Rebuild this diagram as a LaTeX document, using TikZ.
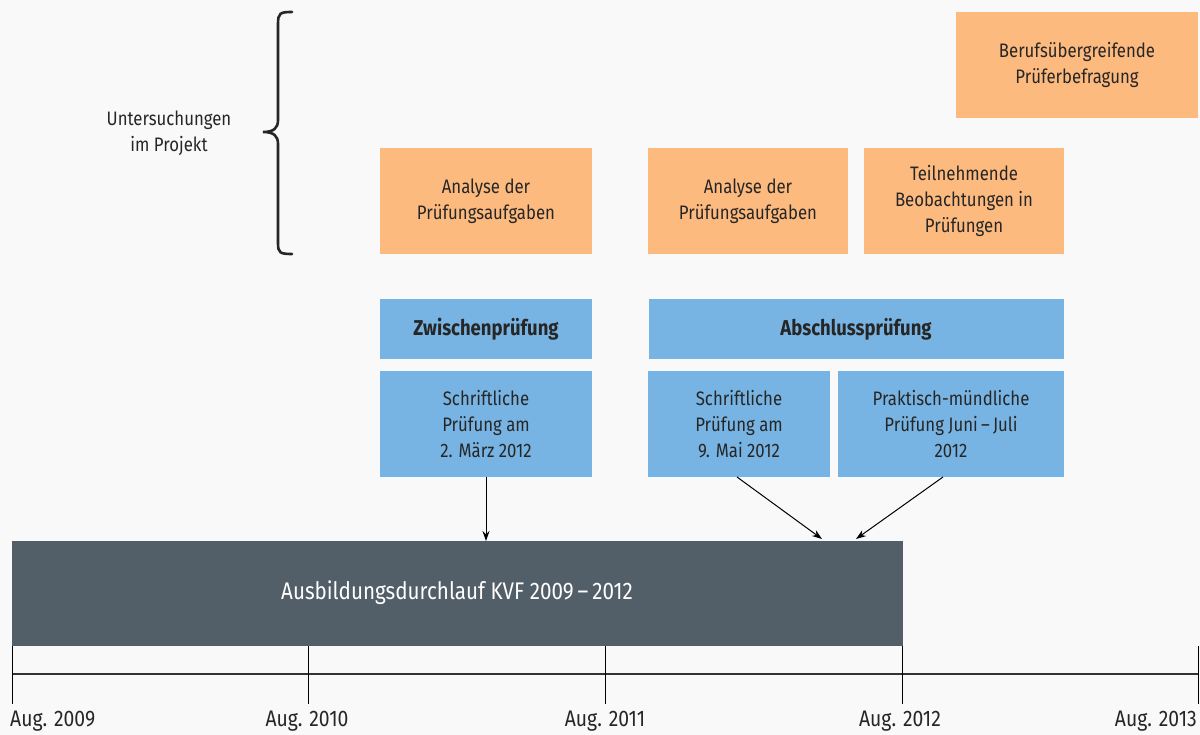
\documentclass[tikz,border=0pt]{standalone}
\usepackage{fontspec}
\setmainfont[FakeStretch=0.86]{Fira Sans}
\usetikzlibrary{arrows.meta}
\definecolor{bg}{HTML}{F9F9F9}
\definecolor{orangebox}{HTML}{FDBA7F}
\definecolor{bluebox}{HTML}{77B4E3}
\definecolor{darkbar}{HTML}{525E68}
\definecolor{txt}{HTML}{262626}
\begin{document}
\begin{tikzpicture}[x=1pt,y=-1pt,
  every node/.style={font=\fontsize{19.5}{26}\selectfont, text=txt, align=center, inner sep=0pt},
  obox/.style={fill=orangebox},
  bbox/.style={fill=bluebox},
  boldlbl/.style={font=\fontsize{21.5}{26}\selectfont\bfseries},
  axislbl/.style={font=\fontsize{22.5}{26}\selectfont},
  conn/.style={draw=black, line width=1pt, -{Stealth[length=10pt,width=7pt]}},
  tick/.style={draw=black, line width=0.8pt}]
\useasboundingbox (0,0) rectangle (1200,735);
\fill[bg] (0,0) rectangle (1200,735);

% brace
\draw[line width=2.6pt, color=txt, line cap=round]
  (292,12) .. controls (280,12) and (278,13) .. (278,24)
  -- (278,120) .. controls (278,128) and (274,132) .. (263,132)
  .. controls (274,132) and (278,136) .. (278,144)
  -- (278,243) .. controls (278,253) and (280,254) .. (292,254);
\node (unt) at (169,133) {Untersuchungen\\im Projekt};

% orange boxes
\fill[obox] (380,148) rectangle (592,254);
\node (a1) at (486,201) {Analyse der\\Prüfungsaufgaben};
\fill[obox] (648,148) rectangle (848,254);
\node (a2) at (748,201) {Analyse der\\Prüfungsaufgaben};
\fill[obox] (864,148) rectangle (1064,254);
\node (a3) at (964,201) {Teilnehmende\\Beobachtungen in\\Prüfungen};
\fill[obox] (956,12) rectangle (1198,118);
\node (a4) at (1077,65) {Berufsübergreifende\\Prüferbefragung};

% blue boxes
\fill[bbox] (380,299) rectangle (592,359);
\node[boldlbl] (zp) at (486,329) {Zwischenprüfung};
\fill[bbox] (649,299) rectangle (1064,359);
\node[boldlbl] (ap) at (856,329) {Abschlussprüfung};
\fill[bbox] (380,371) rectangle (592,477);
\node (s1c) at (486,424) {Schriftliche\\Prüfung am\\2. März 2012};
\fill[bbox] (648,371) rectangle (830,477);
\node (s2c) at (739,424) {Schriftliche\\Prüfung am\\9. Mai 2012};
\fill[bbox] (838,371) rectangle (1064,477);
\node (s3c) at (951,424) {Praktisch-mündliche\\Prüfung Juni\,–\,Juli\\2012};

\coordinate (s1b) at (486,477);
\coordinate (s2b) at (737,477);
\coordinate (s3b) at (943,477);

% dark bar
\fill[darkbar] (12,541) rectangle (903,646);
\node[text=white, font=\fontsize{24}{28}\selectfont] (bar) at (457,593) {Ausbildungsdurchlauf KVF 2009\,–\,2012};
\coordinate (t1) at (486,541);
\coordinate (t2) at (822,539);
\coordinate (t3) at (856,539);

\draw[conn] (s1b) -- (t1);
\draw[conn] (s2b) -- (t2);
\draw[conn] (s3b) -- (t3);

% timeline
\coordinate (l0) at (12,674);
\coordinate (l4) at (1198,674);
\draw[draw=black!80, line width=1.3pt] (l0) -- (l4);
\foreach \x in {12,308,605,902,1198} {
  \draw[tick] (\x,646) -- (\x,704);
}
\node[axislbl, anchor=west] (y09) at (10,721) {Aug. 2009};
\node[axislbl] (y10) at (307,721) {Aug. 2010};
\node[axislbl] (y11) at (605,721) {Aug. 2011};
\node[axislbl] (y12) at (900,721) {Aug. 2012};
\node[axislbl, anchor=east] (y13) at (1197,721) {Aug. 2013};
\end{tikzpicture}
\end{document}
